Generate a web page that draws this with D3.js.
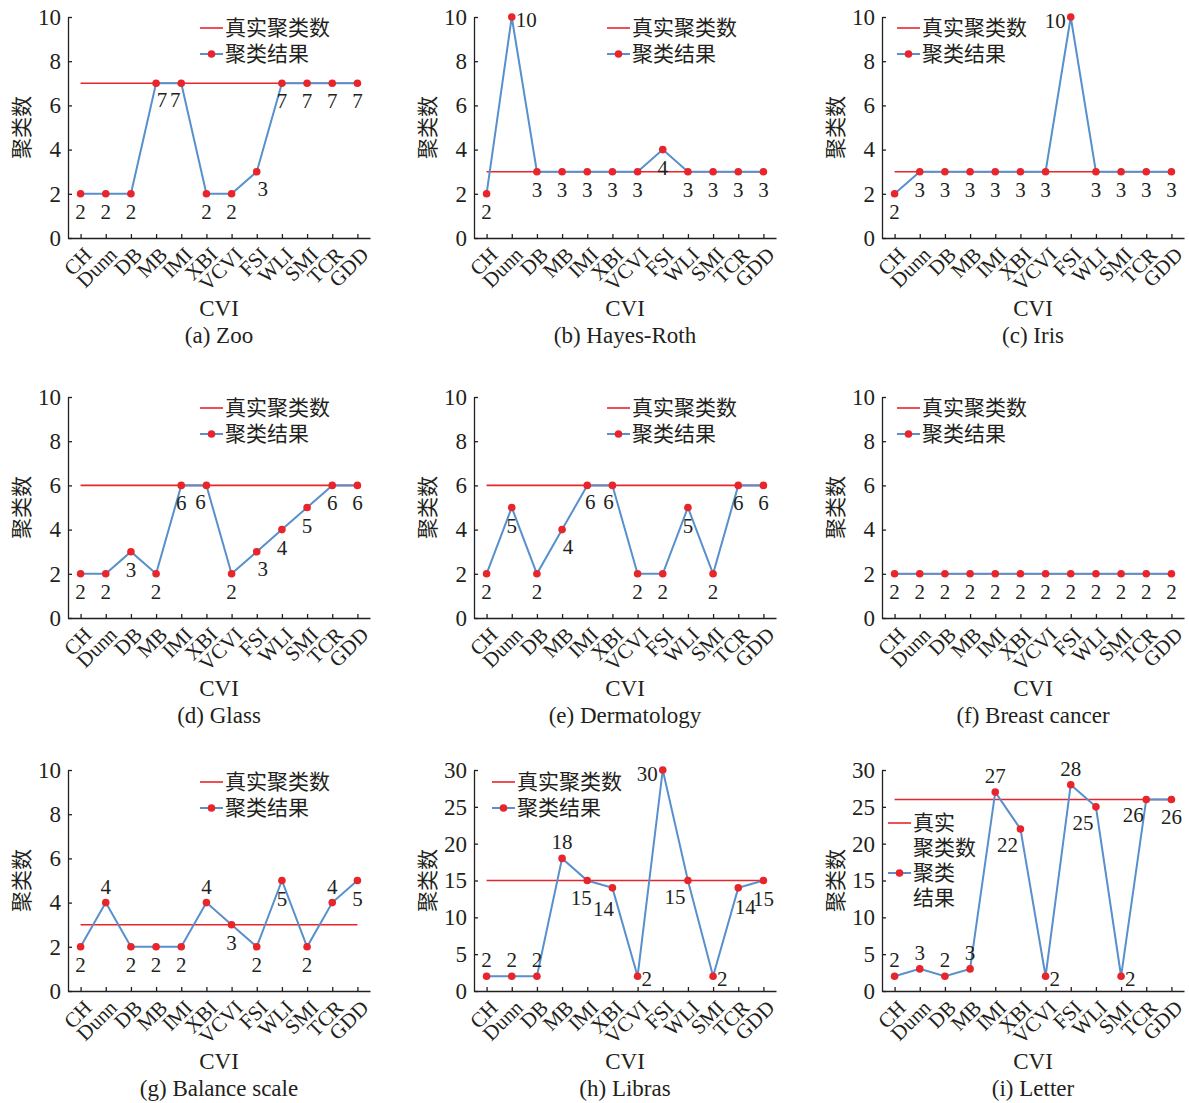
<!DOCTYPE html>
<html>
<head>
<meta charset="utf-8">
<script src="https://cdn.jsdelivr.net/npm/d3@7"></script>
<style>
  body { margin: 0; background: #fff; }
  text { font-family: "Liberation Serif", "Times New Roman", "Noto Sans CJK SC", serif; fill: #231f20; }
  .axis path, .axis line { stroke: #231f20; stroke-width: 1.3; }
</style>
</head>
<body>
<script>
// CVI names on the x axis
var cvi = ["CH", "Dunn", "DB", "MB", "IMI", "XBI", "VCVI", "FSI", "WLI", "SMI", "TCR", "GDD"];

var titles = ["(a) Zoo", "(b) Hayes-Roth", "(c) Iris", "(d) Glass", "(e) Dermatology",
  "(f) Breast cancer", "(g) Balance scale", "(h) Libras", "(i) Letter"];

// true number of clusters per dataset
var trueK = [7, 3, 3, 6, 6, 2, 3, 15, 26];

// clustering results per CVI
var zoo          = [2, 2, 2, 7, 7, 2, 2, 3, 7, 7, 7, 7];
var hayesRoth    = [2, 10, 3, 3, 3, 3, 3, 4, 3, 3, 3, 3];
var iris         = [2, 3, 3, 3, 3, 3, 3, 10, 3, 3, 3, 3];
var glass        = [2, 2, 3, 2, 6, 6, 2, 3, 4, 5, 6, 6];
var dermatology  = [2, 5, 2, 4, 6, 6, 2, 2, 5, 2, 6, 6];
var breastCancer = [2, 2, 2, 2, 2, 2, 2, 2, 2, 2, 2, 2];
var balanceScale = [2, 4, 2, 2, 2, 4, 3, 2, 5, 2, 4, 5];
var libras       = [2, 2, 2, 18, 15, 14, 2, 30, 15, 2, 14, 15];
var letter       = [2, 3, 2, 3, 27, 22, 2, 28, 25, 2, 26, 26];

var yMax = [10, 10, 10, 10, 10, 10, 10, 30, 30];
var yStep = [2, 2, 2, 2, 2, 2, 2, 5, 5];

// where each value label sits relative to its point
var labelPos = [
  ["b", "b", "b", "br", "bl", "b", "b", "br", "b", "b", "b", "b"],
  ["b", "r", "b", "b", "b", "b", "b", "b", "b", "b", "b", "b"],
  ["b", "b", "b", "b", "b", "b", "b", "l", "b", "b", "b", "b"],
  ["b", "b", "b", "b", "b", "bl", "b", "br", "b", "b", "b", "b"],
  ["b", "b", "b", "br", "br2", "bl2", "b", "b", "b", "b", "b", "b"],
  ["b", "b", "b", "b", "b", "b", "b", "b", "b", "b", "b", "b"],
  ["b", "t", "b", "b", "b", "t", "b", "b", "b", "b", "t", "b"],
  ["t", "t", "t", "t", "bl", "BL2", "r", "l", "BL", "r", "BR", "b"],
  ["t", "t", "t", "t", "t", "BL", "r", "t", "BL", "r", "BL", "b"]
];

var results = [zoo, hayesRoth, iris, glass, dermatology, breastCancer, balanceScale, libras, letter];

var colX = [68, 474, 882];
var rowY = [17, 397, 770];
var plotW = 302, plotH = 221;

// legend offsets from the plot's top-left corner
var legendAt = [[132, 11], [133, 11], [15, 11], [132, 11], [133, 11], [15, 11], [132, 12], [18, 12], [6, 53]];

var offsets = {
  b: [0, 18, "middle"], t: [0, -16, "middle"], br: [6, 17, "middle"], bl: [-6, 17, "middle"],
  br2: [3, 17, "middle"], bl2: [-4, 17, "middle"], BR: [7, 19, "middle"],
  BL: [-13, 16, "middle"], BL2: [-9, 21, "middle"], r: [4, 3, "start"], l: [-5, 4, "end"]
};

var blue = "#5790cc", red = "#e8252a";

var svg = d3.select("body").append("svg")
  .attr("width", 1189)
  .attr("height", 1103);

function drawPanel(i) {
  var x0 = colX[i % 3], y0 = rowY[Math.floor(i / 3)];
  var values = results[i];
  var g = svg.append("g").attr("transform", "translate(" + x0 + "," + y0 + ")");

  var xScale = d3.scalePoint().domain(cvi).range([0, plotW]).padding(0.5);
  var yScale = d3.scaleLinear().domain([0, yMax[i]]).range([plotH, 0]);

  var yTicks = d3.range(0, yMax[i] + 1, yStep[i]);
  g.append("g").attr("class", "axis")
    .call(d3.axisLeft(yScale).tickValues(yTicks).tickSize(-4).tickPadding(7).tickSizeOuter(0))
    .call(function(a) { a.selectAll("text").style("font-size", "23px").attr("fill", "#231f20"); });

  var xg = g.append("g").attr("class", "axis")
    .attr("transform", "translate(0," + plotH + ")")
    .call(d3.axisBottom(xScale).tickSize(-4).tickSizeOuter(0));
  xg.selectAll("text")
    .style("font-size", "21px")
    .attr("fill", "#231f20")
    .attr("text-anchor", "end")
    .attr("x", 0).attr("y", 0).attr("dy", 0)
    .attr("transform", "translate(12,18) rotate(-45)");

  g.append("text")
    .attr("transform", "translate(-46," + plotH / 2 + ") rotate(-90)")
    .attr("text-anchor", "middle")
    .attr("dominant-baseline", "central")
    .style("font-size", "21px")
    .text("聚类数");

  g.append("text")
    .attr("x", plotW / 2).attr("y", plotH + 70)
    .attr("text-anchor", "middle")
    .attr("dominant-baseline", "central")
    .style("font-size", "23px")
    .text("CVI");

  g.append("text")
    .attr("x", plotW / 2).attr("y", plotH + 97)
    .attr("text-anchor", "middle")
    .attr("dominant-baseline", "central")
    .style("font-size", "23px")
    .text(titles[i]);

  // true cluster count
  g.append("line")
    .attr("x1", xScale(cvi[0])).attr("x2", xScale(cvi[cvi.length - 1]))
    .attr("y1", yScale(trueK[i])).attr("y2", yScale(trueK[i]))
    .attr("stroke", red).attr("stroke-width", 1.6);

  var line = d3.line()
    .x(function(d, j) { return xScale(cvi[j]); })
    .y(function(d) { return yScale(d); });

  g.append("path").datum(values)
    .attr("d", line)
    .attr("fill", "none")
    .attr("stroke", blue)
    .attr("stroke-width", 2);

  g.selectAll("circle.pt").data(values).enter().append("circle")
    .attr("class", "pt")
    .attr("cx", function(d, j) { return xScale(cvi[j]); })
    .attr("cy", function(d) { return yScale(d); })
    .attr("r", 3.8)
    .attr("fill", red);

  g.selectAll("text.val").data(values).enter().append("text")
    .attr("class", "val")
    .attr("x", function(d, j) { return xScale(cvi[j]) + offsets[labelPos[i][j]][0]; })
    .attr("y", function(d, j) { return yScale(d) + offsets[labelPos[i][j]][1]; })
    .attr("text-anchor", function(d, j) { return offsets[labelPos[i][j]][2]; })
    .attr("dominant-baseline", "central")
    .style("font-size", "21px")
    .text(function(d) { return d; });

  drawLegend(g, legendAt[i], i === 8);
}

function drawLegend(g, at, wrap) {
  var lx = at[0], ly = at[1];
  var gap = wrap ? 50 : 26;
  var items = [
    { lines: wrap ? ["真实", "聚类数"] : ["真实聚类数"], color: red, dot: false },
    { lines: wrap ? ["聚类", "结果"] : ["聚类结果"], color: blue, dot: true }
  ];
  items.forEach(function(item, k) {
    var y = ly + k * gap;
    g.append("line")
      .attr("x1", lx).attr("x2", lx + 23)
      .attr("y1", y).attr("y2", y)
      .attr("stroke", item.color).attr("stroke-width", item.dot ? 2 : 1.6);
    if (item.dot) {
      g.append("circle").attr("cx", lx + 11.5).attr("cy", y).attr("r", 3.8).attr("fill", red);
    }
    item.lines.forEach(function(t, m) {
      g.append("text")
        .attr("x", lx + 25).attr("y", y + m * 25)
        .attr("dominant-baseline", "central")
        .style("font-size", "21px")
        .text(t);
    });
  });
}

for (var i = 0; i < results.length; i++) {
  drawPanel(i);
}
</script>
</body>
</html>
